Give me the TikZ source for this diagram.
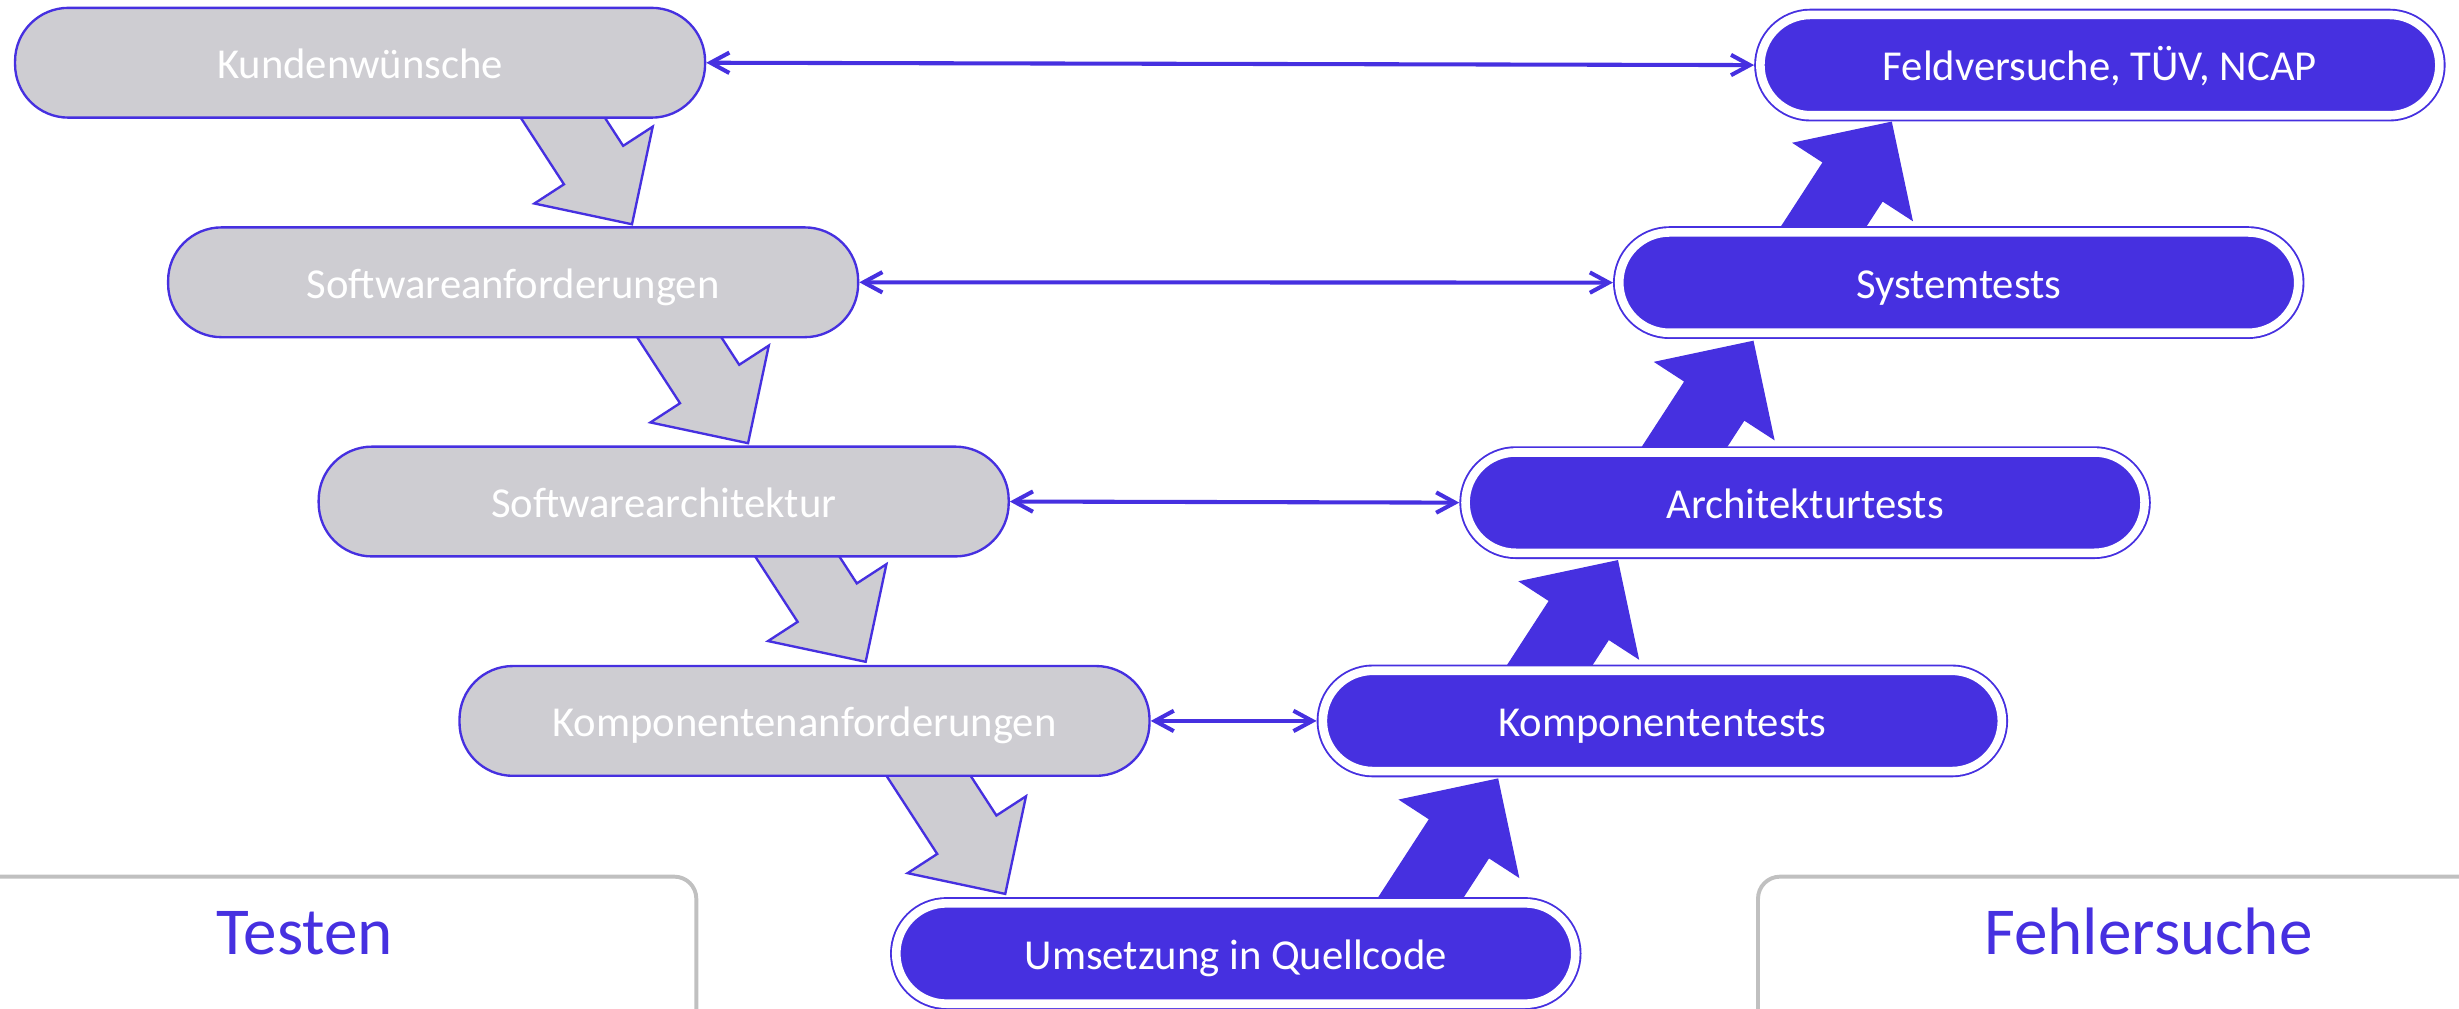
\documentclass[tikz,border=0pt]{standalone}
\usepackage{fontspec}
\setmainfont{Carlito}
\usetikzlibrary{arrows.meta,calc}
\definecolor{vblue}{RGB}{70,48,224}
\definecolor{vgray}{RGB}{206,205,210}
\definecolor{framegray}{RGB}{192,192,192}
\newcommand\blockarrow[3]{%
  \path[#1, shift={(#2)}, rotate=#3] (0,0) -- (-45,45) -- (-45,22.5) -- (-125,22.5)
    -- (-125,-22.5) -- (-45,-22.5) -- (-45,-45) -- cycle;}
\begin{document}
\begin{tikzpicture}[x=0.5pt,y=-0.5pt,
  boxtext/.style={text=white, font=\fontsize{13.6pt}{16pt}\selectfont, text height=10.1pt, text depth=0pt},
  graybox/.style={boxtext, draw=vblue, line width=0.75pt, fill=vgray, rounded corners=17pt,
    minimum width=220pt, minimum height=35pt, inner sep=0pt},
  bluebox/.style={boxtext, draw=vblue, fill=vblue, line width=0.6pt, double=white,
    double distance=2.75pt, rounded corners=16pt, minimum width=216.5pt,
    minimum height=32pt, inner sep=0pt, outer sep=2pt},
  link/.style={draw=vblue, line width=1.3pt,
    {Straight Barb[length=6pt,width=6.5pt]}-{Straight Barb[length=6pt,width=6.5pt]}},
  grayarrow/.style={draw=vblue, line width=0.75pt, fill=vgray, line join=miter},
  bluearrow/.style={draw=vblue, line width=0.4pt, fill=vblue, line join=miter},
  framebox/.style={draw=framegray, line width=1.25pt, rounded corners=7pt},
  heading/.style={text=vblue, font=\fontsize{21.4pt}{24pt}\selectfont, anchor=base, inner sep=0pt}
]
\useasboundingbox (0,0) rectangle (1568,643);
\clip (0,0) rectangle (1568,643);

% bottom frames
\draw[framebox] (-60,559) rectangle (444,740);
\draw[framebox] (1121,559) rectangle (1640,740);
\node[heading] (testen) at (194.4,608.4) {Testen};
\node[heading] (fehler) at (1370,608.4) {Fehlersuche};

% block arrow tips
\coordinate (g1) at (403,143);
\coordinate (g2) at (477,282.6);
\coordinate (g3) at (552,422);
\coordinate (g4) at (641,570);
\coordinate (b1) at (955,496.8);
\coordinate (b2) at (1031.4,357.6);
\coordinate (b3) at (1117.8,217.7);
\coordinate (b4) at (1206,78);

\blockarrow{grayarrow}{g1}{-57}
\blockarrow{grayarrow}{g2}{-57}
\blockarrow{grayarrow}{g3}{-57}
\blockarrow{grayarrow}{g4}{-57}
\blockarrow{bluearrow}{b1}{57}
\blockarrow{bluearrow}{b2}{57}
\blockarrow{bluearrow}{b3}{57}
\blockarrow{bluearrow}{b4}{57}

% left side
\node[graybox] (k1) at (229.6,40) {Kundenwünsche};
\node[graybox] (k2) at (327.2,180) {Softwareanforderungen};
\node[graybox] (k3) at (423.2,319.8) {Softwarearchitektur};
\node[graybox] (k4) at (513,459.7) {Komponentenanforderungen};

% bottom and right side
\node[bluebox] (q) at (788,608) {Umsetzung in Quellcode};
\node[bluebox] (t4) at (1060,459.7) {Komponententests};
\node[bluebox] (t3) at (1151,320.5) {Architekturtests};
\node[bluebox] (t2) at (1249,180.2) {Systemtests};
\node[bluebox] (t1) at (1339,41.5) {Feldversuche, TÜV, NCAP};

% horizontal links
\draw[link] (k1.east) -- (t1.west);
\draw[link] (k2.east) -- (t2.west);
\draw[link] (k3.east) -- (t3.west);
\draw[link] (k4.east) -- (t4.west);
\end{tikzpicture}
\end{document}
